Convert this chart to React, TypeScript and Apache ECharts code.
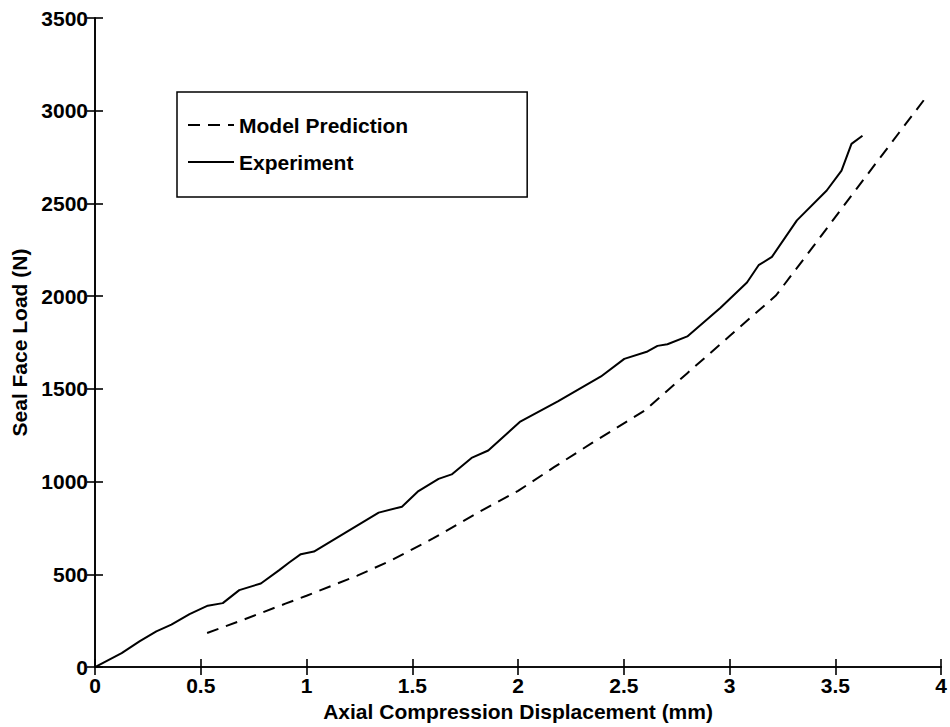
import React, { useEffect, useRef } from "react";
import * as echarts from "echarts";

const xTicks = { min: 0, max: 4, interval: 0.5 };
const yTicks = { min: 0, max: 3500, interval: 500 };

const modelX = [0.53, 0.7, 0.9, 1.0, 1.24, 1.4, 1.6, 1.81, 2.0, 2.17, 2.35, 2.6, 2.8, 3.0, 3.18, 3.22, 3.4, 3.6, 3.8, 3.92];
const modelY = [184, 255, 342, 385, 493, 575, 695, 833, 950, 1078, 1209, 1385, 1585, 1785, 1965, 2005, 2275, 2579, 2880, 3060];

const expX = [0, 0.126, 0.212, 0.29, 0.361, 0.447, 0.533, 0.604, 0.682, 0.784, 0.871, 0.918, 0.973, 1.035, 1.184, 1.341, 1.451, 1.529, 1.624, 1.686, 1.78, 1.859, 2.008, 2.188, 2.392, 2.502, 2.612, 2.659, 2.706, 2.8, 2.957, 3.082, 3.137, 3.2, 3.318, 3.459, 3.529, 3.576, 3.628];
const expY = [0, 75, 140, 193, 229, 286, 331, 345, 415, 451, 523, 564, 609, 623, 725, 833, 865, 949, 1015, 1039, 1128, 1168, 1322, 1433, 1567, 1662, 1702, 1732, 1741, 1783, 1938, 2074, 2167, 2212, 2409, 2570, 2677, 2821, 2865];

const FONT = "'Liberation Sans', Arial, Helvetica, sans-serif";

export default function App() {
  const ref = useRef<HTMLDivElement>(null);
  useEffect(() => {
    if (!ref.current) return;
    const chart = echarts.init(ref.current, null, { renderer: "svg" });
    const axisLine = { lineStyle: { color: "#000", width: 1.6 } };
    const tick = { inside: true, length: 8, lineStyle: { color: "#000", width: 1.6 } };
    const label = { color: "#000", fontSize: 21, fontWeight: "bold", fontFamily: FONT };
    chart.setOption({
      animation: false,
      backgroundColor: "#fff",
      grid: { left: 95, right: 5, top: 18, bottom: 57, containLabel: false },
      legend: {
        orient: "vertical",
        left: 177,
        top: 92,
        data: ["Model Prediction", "Experiment"],
        borderColor: "#000",
        borderWidth: 1.5,
        padding: [21, 119, 23, 10],
        itemWidth: 46,
        itemHeight: 14,
        itemGap: 13,
        itemStyle: { opacity: 0 },
        textStyle: { color: "#000", fontSize: 21, fontWeight: "bold", fontFamily: FONT, lineHeight: 24 },
        selectedMode: false,
      },
      xAxis: [
        {
          type: "value", ...xTicks, position: "bottom",
          name: "Axial Compression Displacement (mm)", nameLocation: "middle", nameGap: 30,
          nameTextStyle: { ...label },
          axisLine, axisTick: tick, splitLine: { show: false },
          axisLabel: { ...label, margin: 8 },
        },
        {
          type: "value", ...xTicks, position: "top",
          axisLine, axisTick: tick, splitLine: { show: false }, axisLabel: { show: false },
        },
      ],
      yAxis: [
        {
          type: "value", ...yTicks, position: "left",
          name: "Seal Face Load (N)", nameLocation: "middle", nameGap: 62,
          nameTextStyle: { ...label },
          axisLine, axisTick: tick, splitLine: { show: false },
          axisLabel: { ...label, margin: 7, formatter: (v: number) => String(v) },
        },
        {
          type: "value", ...yTicks, position: "right",
          axisLine, axisTick: tick, splitLine: { show: false }, axisLabel: { show: false },
        },
      ],
      series: [
        {
          name: "Model Prediction", type: "line", xAxisIndex: 0, yAxisIndex: 0,
          data: modelX.map((x, i) => [x, modelY[i]]),
          symbol: "none", smooth: false,
          lineStyle: { color: "#000", width: 2, type: [12, 8] },
          itemStyle: { color: "#000" },
        },
        {
          name: "Experiment", type: "line", xAxisIndex: 0, yAxisIndex: 0,
          data: expX.map((x, i) => [x, expY[i]]),
          symbol: "none", smooth: false,
          lineStyle: { color: "#000", width: 2, type: "solid" },
          itemStyle: { color: "#000" },
        },
      ],
    });
    return () => chart.dispose();
  }, []);
  return <div ref={ref} style={{ width: 950, height: 727, position: "absolute", left: 0, top: 0 }} />;
}
